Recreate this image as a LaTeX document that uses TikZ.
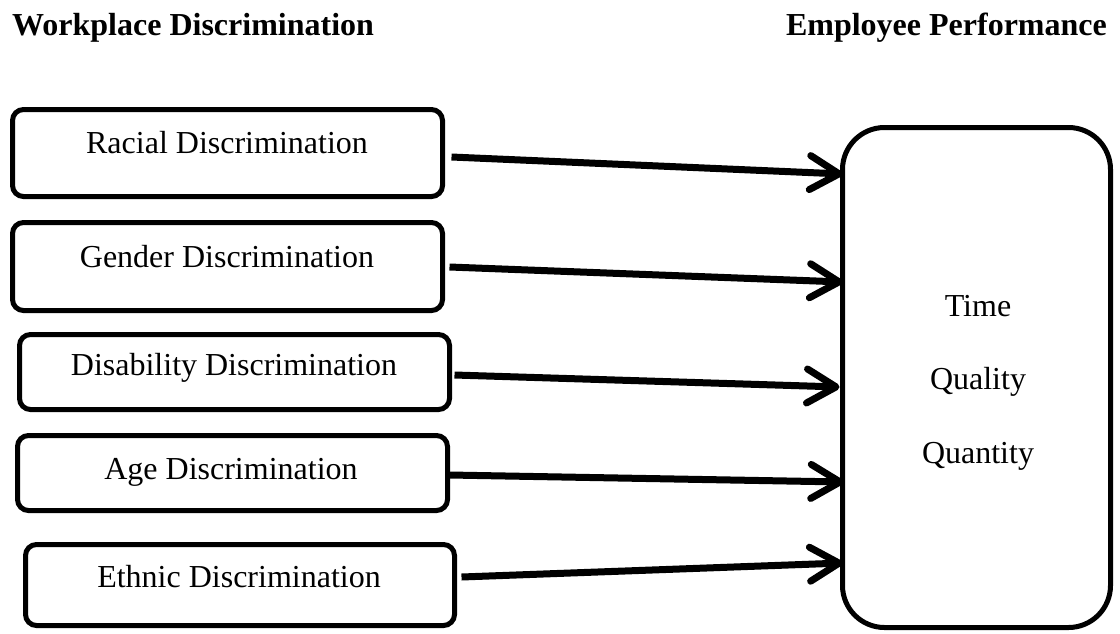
\documentclass[tikz,border=0pt]{standalone}
\usepackage{fontspec}
\setmainfont{Liberation Serif}
\usetikzlibrary{arrows.meta}
\begin{document}
\begin{tikzpicture}[x=1pt,y=-1pt,
  box/.style={draw, line width=5pt, rounded corners=11pt, minimum width=430pt, inner sep=0pt, outer sep=0pt},
  bigbox/.style={draw, line width=5pt, rounded corners=42pt, inner sep=0pt, outer sep=0pt},
  lbl/.style={anchor=base, inner sep=0pt, font=\fontsize{32}{38}\selectfont},
  ttl/.style={anchor=base, inner sep=0pt, font=\fontsize{32}{38}\selectfont\bfseries},
  arr/.style={line width=7pt, -{Straight Barb[length=29pt,width=34pt,round]}}]
\useasboundingbox (0,0) rectangle (1120,633);
% titles
\node[ttl, anchor=base west] (t1) at (12,35) {Workplace Discrimination};
\node[ttl, anchor=base east] (t2) at (1107,35) {Employee Performance};
% left boxes
\node[box, minimum height=87pt] (b1) at (227.5,153) {};
\node[box, minimum height=88pt] (b2) at (227.5,266.5) {};
\node[box, minimum height=75pt] (b3) at (234.5,372) {};
\node[box, minimum height=75pt] (b4) at (232.5,473) {};
\node[box, minimum width=429pt, minimum height=81pt] (b5) at (240,585) {};
\node[lbl] (l1) at (227,153) {Racial Discrimination};
\node[lbl] (l2) at (227,267) {Gender Discrimination};
\node[lbl] (l3) at (234,375) {Disability Discrimination};
\node[lbl] (l4) at (231,479) {Age Discrimination};
\node[lbl] (l5) at (239,587) {Ethnic Discrimination};
% right box
\node[bigbox, minimum width=268pt, minimum height=500pt] (p) at (976.5,377.5) {};
\node[lbl] (q1) at (978,316) {Time};
\node[lbl] (q2) at (978,389) {Quality};
\node[lbl] (q3) at (978,463) {Quantity};
% connector ends
\coordinate (s1) at ([xshift=9pt,yshift=-4pt]b1.east);
\coordinate (s2) at ([xshift=7pt,yshift=-0.5pt]b2.east);
\coordinate (s3) at ([xshift=5pt,yshift=-3pt]b3.east);
\coordinate (s4) at ([xshift=2pt,yshift=-2pt]b4.east);
\coordinate (s5) at ([xshift=7pt,yshift=8pt]b5.east);
\coordinate (e1) at (p.west |- 0,174);
\coordinate (e2) at (p.west |- 0,282);
\coordinate (e3) at ([xshift=-3pt]p.west |- 0,387);
\coordinate (e4) at ([xshift=1pt]p.west |- 0,482);
\coordinate (e5) at (p.west |- 0,563);
\draw[arr] (s1) -- (e1);
\draw[arr] (s2) -- (e2);
\draw[arr] (s3) -- (e3);
\draw[arr] (s4) -- (e4);
\draw[arr] (s5) -- (e5);
\end{tikzpicture}
\end{document}
